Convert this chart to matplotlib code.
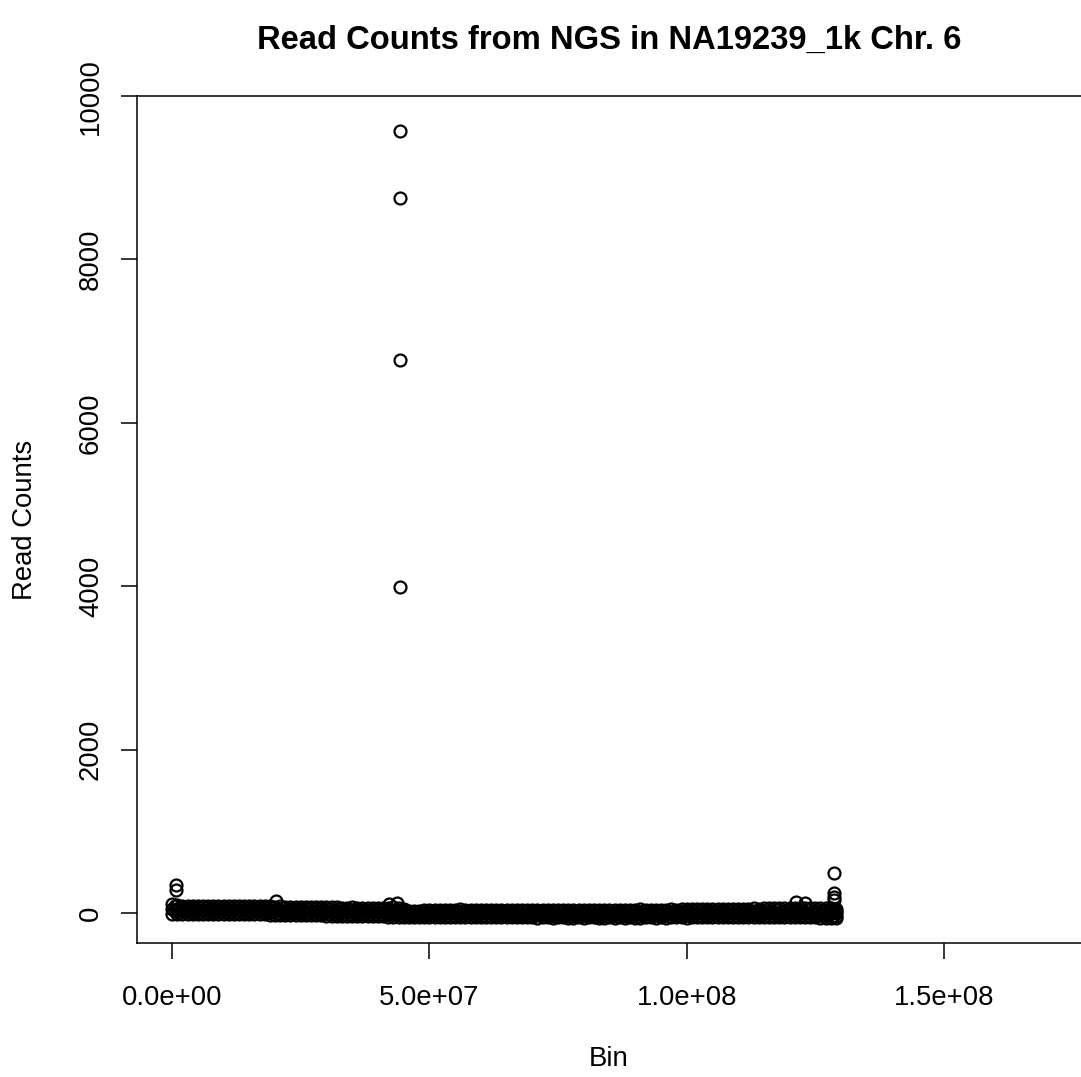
import numpy as np
import matplotlib.pyplot as plt
from matplotlib.ticker import FuncFormatter

plt.rcParams['font.family'] = ['Liberation Sans', 'DejaVu Sans']

# bin start positions (Mb) along chromosome 6, 1 Mb apart
bin_mb = np.arange(0, 130)

# read counts across each 1 Mb stretch of bins, from the top of the cloud to the bottom;
# the in-between rows belong to the bins half a Mb further on
counts_hi = [116, 96, 90, 88, 89, 87, 90, 86, 88, 89, 87, 85, 88, 86, 87, 84, 86, 85,
             82, 81, 80, 82, 79, 78, 80, 77, 76, 78, 74, 73, 70,
             68, 70, 67, 66, 68, 65, 67, 66, 64, 67, 65, 66, 68, 64, 55,
             22, 25, 30, 34, 38, 40, 42, 41, 43, 42, 44, 42, 41, 43, 40, 42, 39, 41, 40, 38, 40,
             39, 41, 38, 40, 42, 39, 40, 38, 41, 40, 39, 42, 40, 38, 41, 39, 40, 42, 40, 39,
             41, 38, 40, 42, 45, 40, 41, 43, 42, 40, 44, 43, 45, 44, 46, 45, 47,
             48, 46, 50, 52, 54, 55, 53, 55, 54, 56, 55, 57, 56, 58, 57, 59, 58, 60, 59,
             58, 57, 56, 58, 60, 62, 55]
counts_upper = [84, 70, 65, 63, 64, 62, 65, 61, 63, 64, 62, 60, 63, 61, 62, 59, 61, 60,
                58, 57, 55, 57, 54, 53, 54, 52, 51, 52, 49, 48, 45,
                43, 45, 42, 41, 42, 40, 41, 40, 38, 40, 38, 39, 40, 37, 30,
                5, 8, 11, 14, 17, 18, 20, 19, 20, 20, 21, 20, 19, 20, 18, 20, 17, 19, 18, 17, 18,
                17, 18, 16, 17, 19, 16, 17, 15, 18, 17, 16, 18, 17, 15, 17, 16, 16, 18, 17, 16,
                17, 15, 17, 18, 20, 17, 18, 19, 18, 17, 20, 19, 20, 20, 21, 20, 22,
                23, 22, 25, 26, 28, 29, 27, 29, 28, 30, 29, 31, 30, 32, 31, 32, 32, 33, 33,
                32, 31, 29, 30, 31, 31, 25]
counts_mid = [52, 44, 40, 39, 40, 38, 40, 37, 38, 39, 37, 36, 38, 36, 37, 35, 36, 35,
              33, 32, 30, 31, 29, 28, 28, 26, 25, 26, 23, 22, 20,
              18, 19, 17, 16, 16, 14, 15, 14, 12, 13, 12, 12, 13, 10, 4,
              -12, -10, -9, -6, -4, -4, -3, -3, -2, -3, -2, -3, -4, -2, -4, -3, -5, -3, -4, -5, -4,
              -6, -6, -7, -6, -5, -7, -7, -8, -6, -7, -7, -6, -7, -8, -7, -8, -7, -6, -7, -8,
              -7, -8, -7, -6, -5, -7, -6, -5, -6, -7, -5, -5, -4, -4, -3, -4, -3,
              -2, -3, -1, 0, 1, 2, 1, 3, 2, 4, 3, 5, 4, 5, 5, 6, 5, 6, 6,
              5, 4, 2, 1, 1, 0, -5]
counts_lower = [23, 18, 16, 15, 15, 14, 14, 13, 13, 13, 12, 11, 12, 11, 11, 10, 10, 10,
                8, 7, 5, 5, 4, 3, 2, 2, 0, 0, -3, -4, -6,
                -7, -7, -9, -10, -10, -12, -12, -13, -14, -14, -15, -16, -16, -18, -22,
                -30, -28, -29, -27, -26, -27, -26, -25, -25, -26, -25, -25, -27, -25, -26, -26, -27, -26, -26, -27, -26,
                -29, -30, -31, -29, -30, -30, -30, -31, -30, -30, -31, -31, -30, -31, -31, -31, -31, -31, -30, -31,
                -30, -32, -31, -31, -30, -31, -30, -30, -30, -31, -29, -30, -29, -30, -29, -29, -29,
                -28, -28, -27, -26, -26, -24, -25, -24, -24, -23, -23, -22, -22, -21, -22, -21, -22, -21, -21,
                -22, -23, -25, -27, -29, -31, -36]
counts_lo = [-6, -8, -9, -10, -11, -10, -12, -11, -12, -13, -12, -14, -13, -14, -15, -14, -15, -15,
             -17, -18, -19, -20, -21, -22, -23, -24, -25, -27, -28, -29, -31,
             -32, -33, -34, -35, -36, -37, -38, -39, -40, -41, -42, -43, -44, -45, -47,
             -47, -46, -48, -47, -47, -49, -48, -47, -48, -49, -48, -47, -49, -48, -47, -48, -49, -48, -47, -48, -47,
             -52, -53, -54, -52, -55, -54, -53, -55, -54, -53, -55, -56, -54, -55, -53, -54, -55, -56, -54, -55,
             -53, -55, -54, -56, -55, -54, -53, -55, -54, -55, -53, -54, -53, -55, -54, -53, -54,
             -53, -52, -53, -51, -52, -50, -51, -50, -49, -50, -48, -49, -48, -47, -48, -47, -48, -47, -47,
             -48, -50, -52, -55, -58, -62, -66]

# isolated high-count bins
outlier_mb = [0.8, 0.8, 20.2, 42.2, 43.8, 44.2, 44.2, 44.2, 44.2,
              121.3, 123.0, 128.6, 128.6, 128.6, 128.6]
outlier_counts = [343, 282, 150, 110, 125, 9570, 8750, 6770, 3990,
                  139, 126, 490, 249, 200, 160]

x_ticks = [0, 5e7, 1e8, 1.5e8]
y_ticks = [0, 2000, 4000, 6000, 8000, 10000]

fig = plt.figure(figsize=(10.81, 10.77), dpi=100)
ax = fig.add_axes([0.1267, 0.1244, 0.8779, 0.7864])

# open circles, like R's pch=1
marker_kw = dict(linestyle='none', marker='o', markersize=8.6, markerfacecolor='none',
                 markeredgecolor='black', markeredgewidth=1.6)
pos = bin_mb * 1e6
pos_half = np.minimum(bin_mb + 0.5, bin_mb[-1]) * 1e6
ax.plot(pos, counts_hi, **marker_kw)
ax.plot(pos_half, counts_upper, **marker_kw)
ax.plot(pos, counts_mid, **marker_kw)
ax.plot(pos_half, counts_lower, **marker_kw)
ax.plot(pos, counts_lo, **marker_kw)
ax.plot(np.array(outlier_mb) * 1e6, outlier_counts, **marker_kw)

ax.set_xlim(-6.83e6, 1.776e8)
ax.set_ylim(-367, 10000)
ax.set_xticks(x_ticks)
ax.set_yticks(y_ticks)
ax.xaxis.set_major_formatter(FuncFormatter(lambda v, _: f"{v:.1e}"))
ax.tick_params(axis='both', length=11.8, width=1.1, labelsize=19.8, direction='out')
ax.tick_params(axis='x', pad=18.5)
ax.tick_params(axis='y', pad=12, labelrotation=90)
for lab in ax.get_yticklabels():
    lab.set_va('center')
for sp in ax.spines.values():
    sp.set_linewidth(1.1)

fig.text(609 / 1081, 1 - 40 / 1077, 'Read Counts from NGS in NA19239_1k Chr. 6',
         ha='center', va='center', fontsize=23.6, fontweight='bold')
fig.text(609 / 1081, 1 - 1059 / 1077, 'Bin', ha='center', va='center', fontsize=19.8)
fig.text(25 / 1081, 1 - 520 / 1077, 'Read Counts', ha='center', va='center',
         rotation=90, fontsize=19.8)

fig.savefig('out.png', dpi=100)
